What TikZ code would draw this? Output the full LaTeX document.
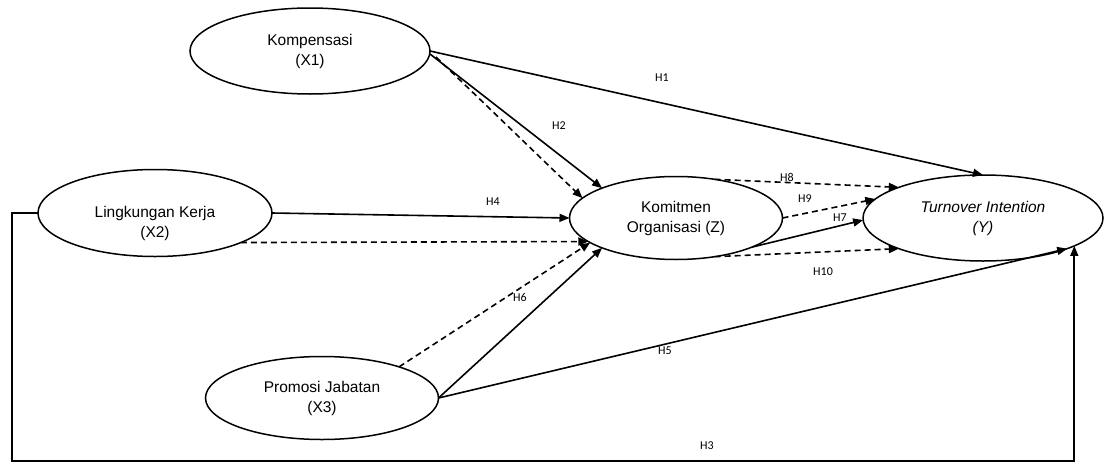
\documentclass[tikz,border=0pt]{standalone}
\usepackage{fontspec}
\setmainfont{Liberation Sans}
\newfontfamily\hfont{Carlito}
\usetikzlibrary{shapes.geometric,arrows.meta}
\begin{document}
\begin{tikzpicture}[x=1pt,y=-1pt,
  var/.style={ellipse,draw,line width=1.5pt,inner sep=0pt,outer sep=0pt,align=center,font=\fontsize{15.5}{20}\selectfont},
  conn/.style={line width=1.6pt,-{Triangle[length=10pt,width=8pt]}},
  dsh/.style={conn,dash pattern=on 6pt off 4pt},
  hyp/.style={font=\hfont\fontsize{12}{14}\selectfont,inner sep=0pt}]
\useasboundingbox (0,0) rectangle (1105,463);
% variables
\node[var,minimum width=240pt,minimum height=86pt] (K) at (310,51) {Kompensasi\\(X1)};
\node[var,minimum width=234pt,minimum height=87pt,
      label={[font=\fontsize{15.5}{20}\selectfont,align=center,yshift=-10pt]center:Lingkungan Kerja\\(X2)}] (L) at (155,213) {};
\node[var,minimum width=233pt,minimum height=83pt] (P) at (322,398) {Promosi Jabatan\\(X3)};
\node[var,minimum width=213pt,minimum height=83pt] (Z) at (676,218) {Komitmen\\Organisasi (Z)};
\node[var,minimum width=240pt,minimum height=86pt] (Y) at (983,218) {\itshape Turnover Intention\\\itshape (Y)};
% connectors
\draw[conn] (K.east) -- (Y.north);
\draw[conn] ([yshift=-3pt]K.east) -- (Z.158);
\draw[dsh] ([xshift=6pt,yshift=-6pt]K.east) -- (Z.168);
\draw[conn] (L.east) -- (Z.west);
\draw[dsh] (L.-19) -- (Z.195);
\draw[dsh] (P.22) -- (Z.196);
\draw[conn] (P.east) -- (Z.202);
\draw[conn] (P.east) -- (Y.-20);
\draw[dsh] (Z.45) -- (Y.160);
\draw[dsh] (Z.east) -- (Y.170);
\draw[conn] (Z.-21) -- (Y.181);
\draw[dsh] (Z.-45) -- (Y.200);
\coordinate (c1) at (12,461);
\draw[conn] (L.west) -| (c1) -| (Y.-17);
% hypothesis labels
\node[hyp] (h1) at (662,78) {H1};
\node[hyp] (h2) at (559,126) {H2};
\node[hyp] (h3) at (707,446) {H3};
\node[hyp] (h4) at (493,202) {H4};
\node[hyp] (h5) at (665,351) {H5};
\node[hyp] (h6) at (520,297) {H6};
\node[hyp] (h7) at (840,218) {H7};
\node[hyp] (h8) at (787,177) {H8};
\node[hyp] (h9) at (805,199) {H9};
\node[hyp] (h10) at (823,272) {H10};
\end{tikzpicture}
\end{document}
